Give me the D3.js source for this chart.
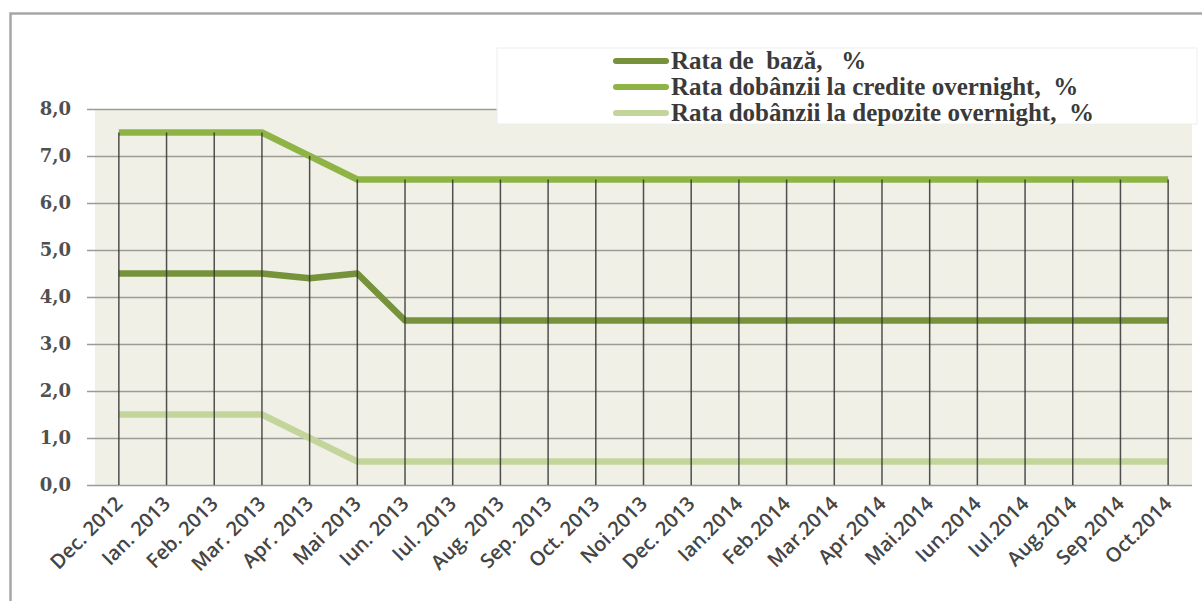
<!DOCTYPE html>
<html>
<head>
<meta charset="utf-8">
<script src="https://cdn.jsdelivr.net/npm/d3@7"></script>
<style>
  body { margin: 0; background: #fff; }
  svg { display: block; }
  text { white-space: pre; }
</style>
</head>
<body>
<div id="chart"></div>
<script>
const months = ['Dec. 2012', 'Ian. 2013', 'Feb. 2013', 'Mar. 2013', 'Apr. 2013', 'Mai 2013',
  'Iun. 2013', 'Iul. 2013', 'Aug. 2013', 'Sep. 2013', 'Oct. 2013', 'Noi.2013', 'Dec. 2013',
  'Ian.2014', 'Feb.2014', 'Mar.2014', 'Apr.2014', 'Mai.2014', 'Iun.2014', 'Iul.2014',
  'Aug.2014', 'Sep.2014', 'Oct.2014']
const rataBaza = [4.5, 4.5, 4.5, 4.5, 4.4, 4.5, 3.5, 3.5, 3.5, 3.5, 3.5, 3.5, 3.5,
  3.5, 3.5, 3.5, 3.5, 3.5, 3.5, 3.5, 3.5, 3.5, 3.5]
const rataCredite = [7.5, 7.5, 7.5, 7.5, 7.0, 6.5, 6.5, 6.5, 6.5, 6.5, 6.5, 6.5, 6.5,
  6.5, 6.5, 6.5, 6.5, 6.5, 6.5, 6.5, 6.5, 6.5, 6.5]
const rataDepozite = [1.5, 1.5, 1.5, 1.5, 1.0, 0.5, 0.5, 0.5, 0.5, 0.5, 0.5, 0.5, 0.5,
  0.5, 0.5, 0.5, 0.5, 0.5, 0.5, 0.5, 0.5, 0.5, 0.5]
const yTicks = [0, 1, 2, 3, 4, 5, 6, 7, 8]
const seriesNames = ['Rata de  bază,   %', 'Rata dobânzii la credite overnight,  %', 'Rata dobânzii la depozite overnight,  %']

const width = 1202
const height = 601
const plot = { left: 95, right: 1192, top: 109, bottom: 485 }

const series = [
  { name: seriesNames[0], values: rataBaza, color: '#76923a' },
  { name: seriesNames[1], values: rataCredite, color: '#8fb446' },
  { name: seriesNames[2], values: rataDepozite, color: '#c4d59c' }
]

const svg = d3.select('#chart')
  .append('svg')
  .attr('width', width)
  .attr('height', height)

// outer frame (only left and top are visible)
svg.append('path')
  .attr('d', `M10.5,${height + 5} V13.5 H${width + 5}`)
  .attr('fill', 'none')
  .attr('stroke', '#a6a6a6')
  .attr('stroke-width', 2.5)

const x = d3.scalePoint()
  .domain(months)
  .range([plot.left, plot.right])
  .padding(0.5)

const y = d3.scaleLinear()
  .domain([0, 8])
  .range([plot.bottom, plot.top])

svg.append('rect')
  .attr('x', plot.left)
  .attr('y', plot.top)
  .attr('width', plot.right - plot.left)
  .attr('height', plot.bottom - plot.top)
  .attr('fill', '#f0f0e7')

// horizontal gridlines
svg.append('g')
  .selectAll('line')
  .data(yTicks)
  .join('line')
  .attr('x1', plot.left - 8)
  .attr('x2', plot.right)
  .attr('y1', d => Math.round(y(d)) + 0.5)
  .attr('y2', d => Math.round(y(d)) + 0.5)
  .attr('stroke', '#9c9c96')
  .attr('stroke-width', 1.5)

// y axis labels
svg.append('g')
  .selectAll('text')
  .data(yTicks)
  .join('text')
  .attr('x', 71)
  .attr('y', d => y(d))
  .attr('dy', '0.35em')
  .attr('text-anchor', 'end')
  .attr('font-family', 'DejaVu Serif, serif')
  .attr('font-size', 18)
  .attr('font-weight', 'bold')
  .attr('fill', '#505050')
  .text(d => d3.format('.1f')(d).replace('.', ','))

const line = d3.line()
  .x((d, i) => x(months[i]))
  .y(d => y(d))

svg.append('g')
  .selectAll('path')
  .data(series)
  .join('path')
  .attr('d', d => line(d.values))
  .attr('fill', 'none')
  .attr('stroke', d => d.color)
  .attr('stroke-width', 6.5)
  .attr('stroke-linejoin', 'round')

// drop lines from highest point down to the axis
svg.append('g')
  .selectAll('line')
  .data(months)
  .join('line')
  .attr('x1', d => x(d))
  .attr('x2', d => x(d))
  .attr('y1', (d, i) => y(d3.max(series, s => s.values[i])))
  .attr('y2', y(0))
  .attr('stroke', '#333')
  .attr('stroke-opacity', 0.85)
  .attr('stroke-width', 1.5)

// x axis labels
svg.append('g')
  .selectAll('text')
  .data(months)
  .join('text')
  .attr('transform', d => `translate(${x(d) + 5}, 505) rotate(-45)`)
  .attr('text-anchor', 'end')
  .attr('font-family', 'Open Sans, sans-serif')
  .attr('font-size', 20)
  .attr('font-weight', 600)
  .attr('fill', '#454545')
  .text(d => d)

// legend
const legend = svg.append('g')
legend.append('rect')
  .attr('x', 497)
  .attr('y', 48)
  .attr('width', 700)
  .attr('height', 76)
  .attr('fill', '#fff')
  .attr('stroke', '#eeeeee')

const item = legend.selectAll('g')
  .data(series)
  .join('g')
  .attr('transform', (d, i) => `translate(0, ${61 + i * 26})`)

item.append('line')
  .attr('x1', 616)
  .attr('x2', 666)
  .attr('stroke', d => d.color)
  .attr('stroke-width', 6)
  .attr('stroke-linecap', 'round')

item.append('text')
  .attr('x', 671)
  .attr('dy', '0.33em')
  .attr('font-family', 'Liberation Serif, serif')
  .attr('font-size', 25)
  .attr('font-weight', 'bold')
  .attr('fill', '#3a3a3a')
  .text(d => d.name)
</script>
</body>
</html>
